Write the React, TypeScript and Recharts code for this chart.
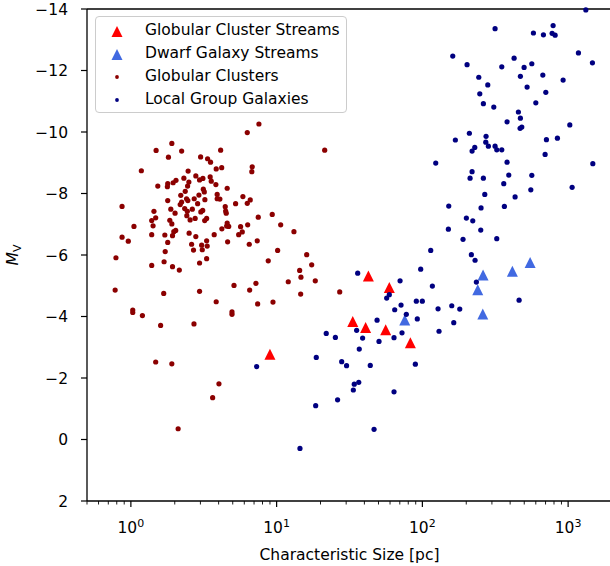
import {
  ScatterChart,
  Scatter,
  XAxis,
  YAxis,
  Legend,
  ReferenceLine,
} from "recharts"

// globular cluster streams (red triangles)
const gcStreamSize = [9.0, 42.6, 59.3, 33.3, 40.8, 56.0, 82.7]
const gcStreamMv = [-2.77, -5.32, -4.94, -3.84, -3.64, -3.57, -3.15]

// dwarf galaxy streams (royal blue triangles)
const dwarfStreamSize = [260.9, 414.7, 548.5, 239.9, 259.7, 75.7]
const dwarfStreamMv = [-5.35, -5.47, -5.76, -4.87, -4.08, -3.89]

// globular clusters
const gcSize = [
  7.56, 6.29, 1.91, 1.49, 2.23, 4.13, 1.81, 3.01, 3.36, 3.52, 6.8, 6.76, 1.18,
  2.47, 3.85, 4.2, 2.79, 3.12, 2.96, 3.5, 2.31, 2.04, 1.95, 1.79, 1.78, 1.53,
  2.5, 2.45, 3.56, 3.83, 4.58, 3.14, 3.19, 2.36, 2.93, 2.2, 3.91, 3.91, 4.08,
  5.87, 6.59, 6.29, 5.23, 2.41, 2.46, 2.72, 3.22, 2.87, 2.23, 2.18, 1.79, 0.87,
  4.44, 1.88, 2.34, 2.64, 2.44, 3.11, 3.02, 1.44, 2.01, 4.47, 4.51, 2.42, 2.76,
  2.55, 3.31, 3.21, 1.48, 1.39, 1.85, 1.91, 7.48, 9.33, 1.42, 1.05, 4.58, 4.54,
  4.69, 4.21, 6.33, 5.66, 10.66, 2.03, 1.97, 1.39, 1.71, 1.93, 2.51, 2.79, 3.73,
  5.81, 5.49, 0.87, 0.96, 1.79, 3.31, 2.61, 3.06, 3.34, 4.61, 6.49, 7.36, 2.69,
  3.09, 1.72, 10.16, 0.79, 3.31, 2.96, 1.69, 8.76, 1.39, 1.93, 2.15, 5.1, 7.21,
  12.02, 6.53, 0.78, 1.68, 2.96, 3.85, 7.41, 9.44, 1.03, 1.03, 1.2, 1.6, 2.71,
  4.94, 4.94, 1.48, 1.91, 4.02, 3.64, 2.11, 13.15, 16.08, 17.4, 14.39, 14.69,
  18.42, 14.62, 27.09, 21.37,
]
const gcMv = [
  -10.26, -9.98, -9.63, -9.4, -9.38, -9.41, -9.18, -9.19, -9.13, -9.02, -8.87,
  -8.71, -8.74, -8.73, -8.8, -8.84, -8.57, -8.49, -8.44, -8.54, -8.5, -8.43,
  -8.35, -8.32, -8.22, -8.24, -8.37, -8.24, -8.4, -8.29, -8.17, -8.14, -8.05,
  -8.07, -7.95, -7.94, -7.97, -7.83, -7.82, -7.9, -7.79, -7.68, -7.67, -7.83,
  -7.77, -7.83, -7.8, -7.67, -7.72, -7.64, -7.77, -7.58, -7.57, -7.49, -7.51,
  -7.49, -7.42, -7.45, -7.4, -7.42, -7.36, -7.43, -7.36, -7.28, -7.19, -7.14,
  -7.19, -7.12, -7.21, -7.12, -7.13, -7.01, -7.23, -7.32, -6.95, -6.93, -7.04,
  -6.94, -6.93, -6.85, -6.98, -6.92, -6.98, -6.8, -6.76, -6.66, -6.65, -6.63,
  -6.71, -6.6, -6.66, -6.75, -6.66, -6.58, -6.45, -6.41, -6.46, -6.35, -6.32,
  -6.29, -6.43, -6.35, -6.46, -6.16, -6.17, -6.11, -6.15, -5.91, -5.88, -5.74,
  -5.78, -5.81, -5.66, -5.62, -5.51, -5.01, -5.08, -5.13, -4.86, -4.86, -4.75,
  -4.82, -4.48, -4.41, -4.47, -4.21, -4.13, -4.03, -3.71, -3.76, -4.15, -4.07,
  -2.52, -2.46, -1.81, -1.36, -0.35, -6.76, -6.01, -5.68, -5.5, -5.28, -5.16,
  -4.73, -4.8, -9.41,
]

// local group galaxies
const lgSize = [
  150.8, 114.1, 97.4, 36.0, 70.3, 117.1, 59.3, 56.9, 90.9, 99.9, 71.4, 64.6,
  128.1, 77.6, 92.3, 48.9, 35.4, 72.5, 130.1, 21.9, 25.3, 38.9, 63.9, 50.4, 36.9,
  18.71, 7.29, 27.95, 30.2, 43.9, 89.5, 34.1, 36.6, 33.6, 26.2, 63.9, 18.53,
  46.6, 14.46, 151.7, 252.7, 365.3, 200.4, 221.7, 251.5, 190.1, 323.9, 216.8,
  229.9, 234.7, 460.9, 159.1, 180.5, 164.2, 1323, 315.3, 788.8, 577.9, 676.9,
  776.4, 814.2, 161.6, 1177, 202.6, 350.6, 425.9, 498.8, 563.4, 1468, 243.8,
  281.0, 470.5, 670.5, 923.8, 523.0, 247.7, 702.9, 262.1, 309.0, 600.2, 455.8,
  470.5, 381.2, 468.2, 481.0, 1027, 210.1, 168.4, 273.5, 272.3, 283.7, 228.8,
  219.3, 315.3, 323.9, 350.6, 709.7, 844.4, 695.3, 123.5, 381.2, 1477, 219.3,
  212.4, 262.1, 391.6, 563.4, 361.8, 554.6, 1065, 268.0, 432.6,
]
const lgMv = [
  -6.84, -6.15, -5.54, -5.41, -5.16, -4.99, -4.71, -4.6, -4.5, -4.5, -4.37,
  -4.22, -4.25, -4.07, -3.92, -3.88, -3.55, -3.47, -3.52, -3.45, -3.32, -3.3,
  -3.31, -3.19, -2.94, -2.67, -2.37, -2.53, -2.4, -2.41, -2.45, -1.8, -1.86,
  -1.61, -1.29, -1.55, -1.1, -0.33, 0.29, -7.59, -7.53, -7.58, -7.2, -7.11,
  -6.81, -6.51, -6.53, -6.01, -5.83, -5.12, -4.53, -4.35, -4.24, -3.8, -13.97,
  -13.36, -13.46, -13.22, -13.16, -13.21, -13.15, -12.47, -12.57, -12.19,
  -12.12, -12.4, -12.1, -12.22, -12.25, -11.78, -11.53, -11.81, -11.85, -11.69,
  -11.46, -11.24, -11.29, -10.92, -10.81, -10.95, -10.65, -10.45, -10.33,
  -10.12, -10.16, -10.23, -9.96, -9.74, -9.86, -9.67, -9.54, -9.5, -9.38, -9.54,
  -9.42, -9.42, -9.75, -9.8, -9.27, -8.99, -9.02, -8.97, -8.71, -8.5, -8.5,
  -8.6, -8.59, -8.32, -8.12, -8.2, -7.97, -7.89,
]

const seriesNames = [
  "Globular Cluster Streams",
  "Dwarf Galaxy Streams",
  "Globular Clusters",
  "Local Group Galaxies",
]

const xTicks = [
  0.5, 0.6, 0.7, 0.8, 0.9, 1, 2, 3, 4, 5, 6, 7, 8, 9, 10, 20, 30, 40, 50, 60,
  70, 80, 90, 100, 200, 300, 400, 500, 600, 700, 800, 900, 1000, 2000,
]
const majorTicks = [1, 10, 100, 1000]
const yTicks = [-14, -12, -10, -8, -6, -4, -2, 0, 2]

const toPoints = (xs: number[], ys: number[]) =>
  xs.map((x, i) => ({ size: x, mv: ys[i] }))

const FONT = "DejaVu Sans, sans-serif"

function SizeTick({ x, y, payload }: any) {
  const v = payload.value
  const major = majorTicks.includes(v)
  return (
    <g>
      <line
        x1={x}
        x2={x}
        y1={y}
        y2={y + (major ? 6 : 3.5)}
        stroke="#000"
        strokeWidth={major ? 1.2 : 0.9}
      />
      {major && (
        <text x={x} y={y + 32} textAnchor="middle" fontSize={15.5} fill="#000">
          10
          <tspan dy={-6} fontSize={11}>
            {Math.round(Math.log10(v))}
          </tspan>
        </text>
      )}
    </g>
  )
}

function triangle(fill: string) {
  return (props: any) => {
    const { cx, cy } = props
    const h = 5.5
    return (
      <path
        d={`M${cx},${cy - h}L${cx + h},${cy + h}L${cx - h},${cy + h}Z`}
        fill={fill}
      />
    )
  }
}

function dot(fill: string) {
  return (props: any) => <circle cx={props.cx} cy={props.cy} r={2.6} fill={fill} />
}

const markerKind: Record<string, string> = {
  "Globular Cluster Streams": "tri",
  "Dwarf Galaxy Streams": "tri",
  "Globular Clusters": "dot",
  "Local Group Galaxies": "dot",
}

function LegendBox({ payload }: any) {
  const items = [...(payload || [])].sort(
    (a: any, b: any) => seriesNames.indexOf(a.value) - seriesNames.indexOf(b.value)
  )
  return (
    <div
      style={{
        width: 252,
        height: 97,
        boxSizing: "border-box",
        border: "1px solid #cccccc",
        borderRadius: 4,
        background: "rgba(255,255,255,0.8)",
        paddingTop: 2,
        fontFamily: FONT,
        fontSize: 15.5,
        color: "#000",
      }}
    >
      {items.map((entry: any) => (
        <div
          key={entry.value}
          style={{ display: "flex", alignItems: "center", height: 23 }}
        >
          <svg width={43} height={23}>
            {markerKind[entry.value] === "tri" ? (
              <path d="M21,7L26.5,18L15.5,18Z" fill={entry.color} />
            ) : (
              <circle cx={21} cy={12} r={1.9} fill={entry.color} />
            )}
          </svg>
          <span style={{ marginLeft: 6, lineHeight: "23px" }}>{entry.value}</span>
        </div>
      ))}
    </div>
  )
}

function MvLabel() {
  return (
    <text
      transform="translate(17.5,255) rotate(-90)"
      textAnchor="middle"
      fontSize={15.5}
      fill="#000"
      fontFamily={FONT}
    >
      <tspan fontStyle="italic">M</tspan>
      <tspan dy={3} fontSize={11}>
        V
      </tspan>
    </text>
  )
}

export default function App() {
  return (
    <div
      style={{
        position: "absolute",
        left: 0,
        top: 0,
        width: 610,
        height: 566,
        overflow: "hidden",
        background: "#fff",
      }}
    >
      <ScatterChart
        width={620}
        height={566}
        margin={{ top: 9, right: 8, left: 0, bottom: 0 }}
        style={{ fontFamily: FONT }}
      >
        <XAxis
          type="number"
          dataKey="size"
          scale="log"
          domain={[0.5, 2000]}
          allowDataOverflow
          ticks={xTicks}
          interval={0}
          tickSize={0}
          tickMargin={0}
          tick={<SizeTick />}
          tickLine={false}
          axisLine={{ stroke: "#000", strokeWidth: 1.3 }}
          height={65}
          label={{
            value: "Characteristic Size [pc]",
            position: "insideBottom",
            offset: 6.5,
            fill: "#000",
            fontSize: 15.5,
          }}
        />
        <YAxis
          type="number"
          dataKey="mv"
          domain={[-14, 2]}
          reversed
          ticks={yTicks}
          interval={0}
          width={87}
          tickSize={6}
          tickMargin={13}
          tick={{ fill: "#000", fontSize: 15.5 }}
          tickLine={{ stroke: "#000", strokeWidth: 1.2 }}
          axisLine={{ stroke: "#000", strokeWidth: 1.3 }}
          tickFormatter={(v: number) => (v < 0 ? `\u2212${-v}` : `${v}`)}
          label={MvLabel}
        />
        <ReferenceLine y={-14} stroke="#000" strokeWidth={1.3} />
        <ReferenceLine x={2000} stroke="#000" strokeWidth={1.3} />
        <Legend
          layout="vertical"
          align="center"
          verticalAlign="middle"
          content={<LegendBox />}
          wrapperStyle={{ left: 95, top: 16, width: 252 }}
        />
        <Scatter
          name={seriesNames[0]}
          data={toPoints(gcStreamSize, gcStreamMv)}
          fill="#ff0000"
          shape={triangle("#ff0000")}
          isAnimationActive={false}
        />
        <Scatter
          name={seriesNames[1]}
          data={toPoints(dwarfStreamSize, dwarfStreamMv)}
          fill="#4169e1"
          shape={triangle("#4169e1")}
          isAnimationActive={false}
        />
        <Scatter
          name={seriesNames[2]}
          data={toPoints(gcSize, gcMv)}
          fill="#8b0000"
          shape={dot("#8b0000")}
          isAnimationActive={false}
        />
        <Scatter
          name={seriesNames[3]}
          data={toPoints(lgSize, lgMv)}
          fill="#000080"
          shape={dot("#000080")}
          isAnimationActive={false}
        />
      </ScatterChart>
    </div>
  )
}
